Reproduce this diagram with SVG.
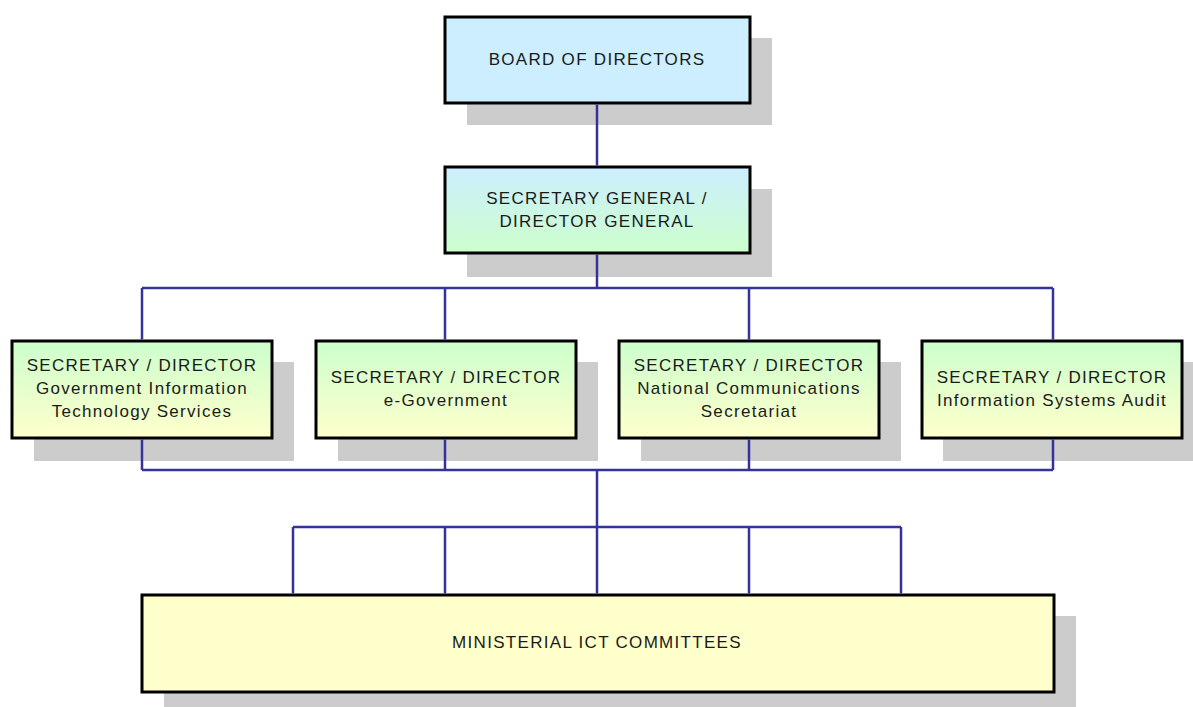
<svg xmlns="http://www.w3.org/2000/svg" width="1193" height="707" viewBox="0 0 1193 707">
<style>
.shadow{fill:#cccccc}
.box{stroke:#000;stroke-width:3}
.t{font-family:"Liberation Sans",Arial,sans-serif;font-size:17px;fill:#1a1a1a;text-anchor:middle;letter-spacing:1.3px}
.c{fill:none;stroke:#333399;stroke-width:2.5}
</style>
<defs>
<linearGradient id="gBG" x1="0" y1="0" x2="0" y2="1"><stop offset="0" stop-color="#cceeff"/><stop offset="1" stop-color="#ccffcc"/></linearGradient>
<linearGradient id="gGY" x1="0" y1="0" x2="0" y2="1"><stop offset="0" stop-color="#ccffcc"/><stop offset="1" stop-color="#ffffcc"/></linearGradient>
</defs>
<rect width="1193" height="707" fill="#fff"/>
<g id="board">
<rect class="shadow" x="467" y="38" width="305" height="87"/>
<rect class="box" x="445" y="17" width="305" height="86" fill="#cceeff"/>
<text class="t" x="597" y="65">BOARD OF DIRECTORS</text>
</g>
<g id="sg">
<rect class="shadow" x="467" y="189" width="305" height="88"/>
<rect class="box" x="445" y="167" width="305" height="86" fill="url(#gBG)"/>
<text class="t" x="597" y="204">SECRETARY GENERAL /</text>
<text class="t" x="597" y="227">DIRECTOR GENERAL</text>
</g>
<g id="gits">
<rect class="shadow" x="34" y="362" width="260" height="99"/>
<rect class="box" x="12" y="341" width="260" height="97" fill="url(#gGY)"/>
<text class="t" x="142" y="371">SECRETARY / DIRECTOR</text>
<text class="t" x="142" y="394">Government Information</text>
<text class="t" x="142" y="417">Technology Services</text>
</g>
<g id="egov">
<rect class="shadow" x="338" y="362" width="260" height="99"/>
<rect class="box" x="316" y="341" width="260" height="97" fill="url(#gGY)"/>
<text class="t" x="446" y="383">SECRETARY / DIRECTOR</text>
<text class="t" x="446" y="406">e-Government</text>
</g>
<g id="ncs">
<rect class="shadow" x="641" y="362" width="260" height="99"/>
<rect class="box" x="619" y="341" width="260" height="97" fill="url(#gGY)"/>
<text class="t" x="749" y="371">SECRETARY / DIRECTOR</text>
<text class="t" x="749" y="394">National Communications</text>
<text class="t" x="749" y="417">Secretariat</text>
</g>
<g id="isa">
<rect class="shadow" x="943" y="362" width="260" height="99"/>
<rect class="box" x="922" y="341" width="260" height="97" fill="url(#gGY)"/>
<text class="t" x="1052" y="383">SECRETARY / DIRECTOR</text>
<text class="t" x="1052" y="406">Information Systems Audit</text>
</g>
<g id="mict">
<rect class="shadow" x="164" y="616" width="912" height="100"/>
<rect class="box" x="142" y="595" width="912" height="97" fill="#ffffcc"/>
<text class="t" x="597" y="648">MINISTERIAL ICT COMMITTEES</text>
</g>
<g id="connectors">
<path class="c" d="M597 104.5V165.5M597 254.5V288M142 288H1053M142 288V339.5M445 288V339.5M749 288V339.5M1053 288V339.5"/>
<path class="c" d="M142 439.5V470M445 439.5V470M749 439.5V470M1053 439.5V470M142 470H1053M597 470V527M293 527H901M293 527V593.5M445 527V593.5M597 527V593.5M749 527V593.5M901 527V593.5"/>
</g>
</svg>
